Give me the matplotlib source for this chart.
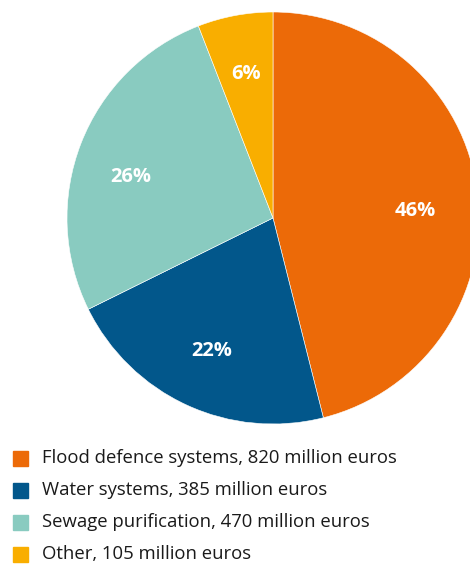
import matplotlib

matplotlib.use("Agg")
import matplotlib.pyplot as plt
import numpy as np
from matplotlib.patches import Rectangle

plt.rcParams["font.family"] = ["Open Sans", "DejaVu Sans"]

labels = ["Flood defence systems, 820 million euros",
          "Water systems, 385 million euros",
          "Sewage purification, 470 million euros",
          "Other, 105 million euros"]
values = [820, 385, 470, 105]
colors = ["#EC6A08", "#02578B", "#89CBC0", "#F9AE00"]

W, H = 470, 564
CX, CY, R = 273, H - 218, 206

fig = plt.figure(figsize=(W / 100, H / 100), dpi=100)
ax = fig.add_axes([0, 0, 1, 1])

# pie cut off at the right edge of the picture
wedges, texts, autotexts = ax.pie(
    values, colors=colors, center=(CX, CY), radius=R,
    startangle=90, counterclock=False,
    autopct=lambda p: f"{p:.0f}%", pctdistance=0.71,
    wedgeprops=dict(edgecolor="white", linewidth=0.4),
    textprops=dict(color="white", fontsize=14.5, fontweight="bold"),
    frame=True)
ax.set_xlim(0, W)
ax.set_ylim(0, H)
ax.set_aspect("equal")
ax.axis("off")

# the big slice's label sits a bit below the middle of the wedge
a = np.deg2rad(3)
autotexts[0].set_position((CX + 0.69 * R * np.cos(a), CY + 0.69 * R * np.sin(a)))
# the sewage label sits a bit higher
a = np.deg2rad(164)
autotexts[2].set_position((CX + 0.72 * R * np.cos(a), CY + 0.72 * R * np.sin(a)))

# legend drawn by hand
for i, (lab, col) in enumerate(zip(labels, colors)):
    yc = H - (458 + 32 * i)
    ax.add_patch(Rectangle((13, yc - 7.5), 15, 15, color=col, clip_on=False))
    ax.text(42, yc, lab, fontsize=13.3, color="#1a1a1a", va="center", ha="left")

fig.savefig("out.png", dpi=100)
